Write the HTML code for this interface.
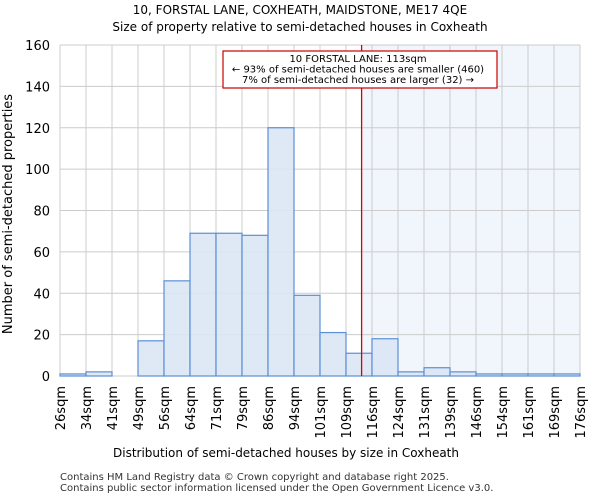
<!DOCTYPE html>
<html><head><meta charset="utf-8"><style>
body{margin:0;background:#fff}
svg{display:block;font-family:"DejaVu Sans","Liberation Sans",sans-serif}
</style></head><body>
<svg id="chart" width="600" height="500" viewBox="0 0 600 500">
<text x="300" y="14" font-size="12" text-anchor="middle">10, FORSTAL LANE, COXHEATH, MAIDSTONE, ME17 4QE</text>
<text x="300" y="31" font-size="12" text-anchor="middle">Size of property relative to semi-detached houses in Coxheath</text>
<g id="plot"></g>
<text x="286" y="457" font-size="12" text-anchor="middle">Distribution of semi-detached houses by size in Coxheath</text>
<text transform="translate(12,214) rotate(-90)" font-size="13" text-anchor="middle">Number of semi-detached properties</text>
<text x="60" y="480" font-size="10" fill="#333">Contains HM Land Registry data © Crown copyright and database right 2025.</text>
<text x="60" y="491" font-size="10" fill="#333">Contains public sector information licensed under the Open Government Licence v3.0.</text>
</svg>
<script>
const tickLabels=["26sqm","34sqm","41sqm","49sqm","56sqm","64sqm","71sqm","79sqm","86sqm","94sqm","101sqm","109sqm","116sqm","124sqm","131sqm","139sqm","146sqm","154sqm","161sqm","169sqm","176sqm"];
const counts=[1,2,0,17,46,69,69,68,120,39,21,11,18,2,4,2,1,1,1,1];
const yTicks=[0,20,40,60,80,100,120,140,160];
const markerBin=11.6;
const NS="http://www.w3.org/2000/svg";
const L=60,R=580,T=45,B=376;
const n=counts.length;
const x=i=>L+(R-L)*i/n;
const y=v=>B-(B-T)*v/160;
const g=document.getElementById('plot');
function mk(t,a){const e=document.createElementNS(NS,t);for(const k in a)e.setAttribute(k,a[k]);g.appendChild(e);return e;}
const mx=x(markerBin);
let e=mk('rect',{x:mx,y:T,width:R-mx,height:B-T,fill:'#eef2fb',opacity:0.8});


yTicks.forEach(v=>{
 let l=mk('line',{x1:L,x2:R,y1:y(v),y2:y(v),stroke:'#ccc','stroke-width':1});
 
 
 let t=mk('text',{x:L-10,y:y(v)+5,'font-size':13,'text-anchor':'end'});t.textContent=v;
 
 
});
tickLabels.forEach((s,i)=>{
 let l=mk('line',{x1:x(i),x2:x(i),y1:T,y2:B,stroke:'#ccc','stroke-width':1});
 
 
 let t=mk('text',{transform:`translate(${x(i)+5},${B+10}) rotate(-90)`,'font-size':13,'text-anchor':'end'});t.textContent=s;
 
 
});
counts.forEach((c,i)=>{
 let r=mk('rect',{x:x(i),y:y(c),width:x(i+1)-x(i),height:B-y(c),fill:'#dce5f4','fill-opacity':0.9,stroke:'#5b8fd6','stroke-width':1.2});
 
 
});
e=mk('line',{x1:mx,x2:mx,y1:T,y2:B,stroke:'#dd0000','stroke-width':1.3});


e=mk('rect',{x:223,y:51,width:274,height:37,fill:'#fff',stroke:'#cc0000','stroke-width':1.2});


["10 FORSTAL LANE: 113sqm","← 93% of semi-detached houses are smaller (460)","7% of semi-detached houses are larger (32) →"].forEach((s,i)=>{
 let t=mk('text',{x:358,y:62+i*10.5,'font-size':10,'text-anchor':'middle'});t.textContent=s;
 
 
});
</script>
</body></html>
